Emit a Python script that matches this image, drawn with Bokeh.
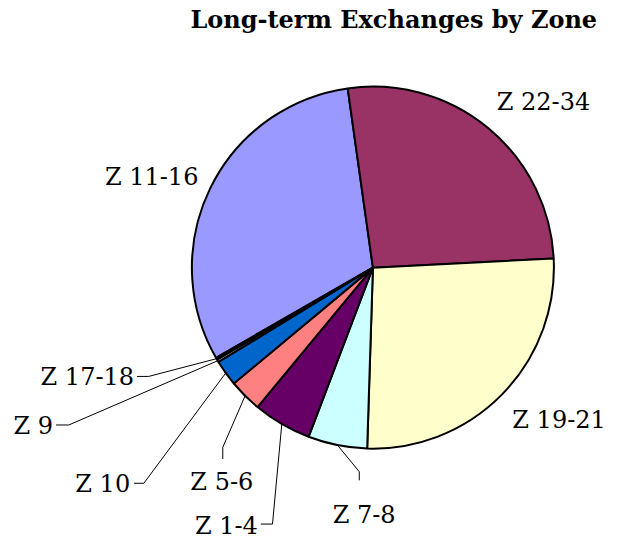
import math
from bokeh.plotting import figure
from bokeh.models import Range1d, ColumnDataSource
from bokeh.core.properties import value
from bokeh.embed import file_html
from bokeh.resources import INLINE

# ---- data ----
zones = ["Z 11-16", "Z 22-34", "Z 19-21", "Z 7-8", "Z 1-4", "Z 5-6", "Z 10", "Z 9", "Z 17-18"]
shares = [31.08, 26.42, 26.31, 5.28, 5.22, 2.94, 2.33, 0.25, 0.17]
colors = ["#9999FF", "#993366", "#FFFFCC", "#CCFFFF", "#660066", "#FF8080", "#0066CC", "#CCCCFF", "#000080"]
title_text = "Long-term Exchanges by Zone"

# ---- layout ----
W, H = 621, 543                   # plot size (fits the 637x559 window with 8px margin)
REF_W, REF_H = 637, 559           # layout below is given in reference-picture pixels
SX, SY = W / REF_W, H / REF_H
S = (SX + SY) / 2
FIRST_ANGLE = 240.1               # clockwise from 12 o'clock, degrees
CENTER_REF = (382, 275)
RADIUS = 186 * S
FONT = "DejaVu Serif"
LABEL_SIZE = "24px"
TITLE_SIZE = "24px"
TITLE_POS = (612, 20)
# label anchor x, vertical middle y, alignment, leader elbow points
label_layout = {
    "Z 11-16": (203, 182, "right", []),
    "Z 22-34": (509, 104, "left", []),
    "Z 19-21": (525, 432, "left", []),
    "Z 7-8": (373, 530, "center", [(368, 494), (368, 485)]),
    "Z 1-4": (264, 541, "right", [(267, 539), (279, 539)]),
    "Z 5-6": (227, 496, "center", [(228, 472), (228, 460)]),
    "Z 10": (133, 498, "right", [(137, 497), (147, 497)]),
    "Z 9": (54, 438, "right", [(57, 437), (70, 437)]),
    "Z 17-18": (137, 388, "right", [(140, 387), (152, 387)]),
}


def P(x, y):
    """reference pixel -> data coords"""
    return x * SX, H - y * SY


cx, cy = P(*CENTER_REF)
total = sum(shares)
starts, ends, mids = [], [], []
acc = 0.0
for v in shares:
    t1 = FIRST_ANGLE + 360.0 * acc / total
    acc += v
    t2 = FIRST_ANGLE + 360.0 * acc / total
    starts.append(math.radians(90 - t1))
    ends.append(math.radians(90 - t2))
    mids.append((t1 + t2) / 2)

p = figure(width=W, height=H, x_range=Range1d(0, W), y_range=Range1d(0, H),
           toolbar_location=None, output_backend="svg", min_border=0)
p.axis.visible = False
p.grid.visible = False
p.outline_line_color = None
p.background_fill_color = "white"
p.border_fill_color = "white"

src = ColumnDataSource(dict(start=starts, end=ends, color=colors, zone=zones))
p.wedge(x=cx, y=cy, radius=RADIUS, start_angle="start", end_angle="end",
        direction="clock", fill_color="color", line_color="black",
        line_width=2, source=src)

# leaders
for z, tm in zip(zones, mids):
    lx, ly, align, elbows = label_layout[z]
    if not elbows:
        continue
    ex = cx + RADIUS * math.sin(math.radians(tm))
    ey = cy + RADIUS * math.cos(math.radians(tm))
    pts = [P(*e) for e in elbows] + [(ex, ey)]
    p.line([q[0] for q in pts], [q[1] for q in pts], line_color="black", line_width=1)

# labels
for align in ("left", "right", "center"):
    xs, ys, ts = [], [], []
    for z in zones:
        lx, ly, a, _ = label_layout[z]
        if a != align:
            continue
        dx, dy = P(lx, ly)
        xs.append(dx); ys.append(dy); ts.append(z)
    if xs:
        p.text(x=xs, y=ys, text=ts, text_align=align, text_baseline="middle",
               text_font=value(FONT), text_font_size=LABEL_SIZE, text_color="black")

tx, ty = P(*TITLE_POS)
p.text(x=[tx], y=[ty], text=[title_text], text_align="right", text_baseline="middle",
       text_font=value(FONT), text_font_size=TITLE_SIZE, text_font_style="bold",
       text_color="black")

open("out.html", "w").write(file_html(p, INLINE))
